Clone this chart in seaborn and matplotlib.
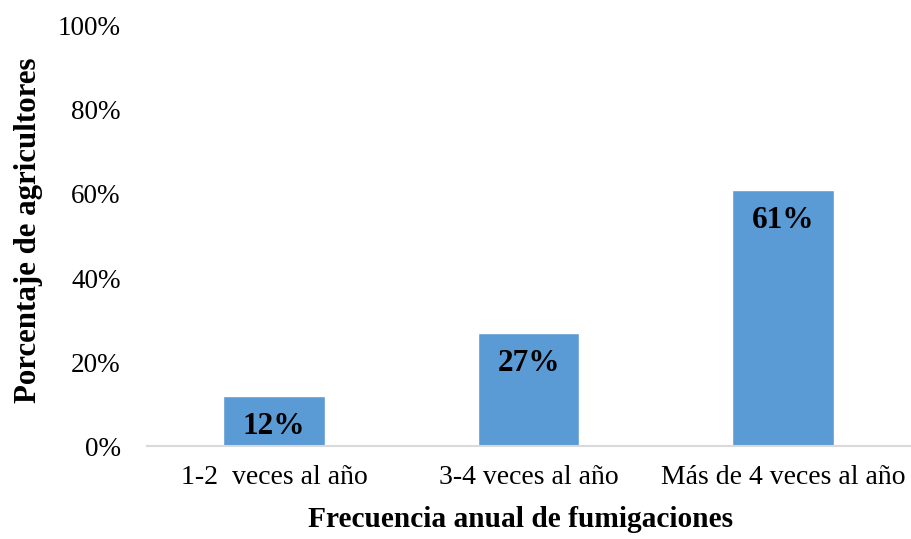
import matplotlib
matplotlib.use("Agg")
import matplotlib.pyplot as plt
import seaborn as sns
import pandas as pd
from matplotlib.ticker import PercentFormatter

categories = ["1-2  veces al año", "3-4 veces al año", "Más de 4 veces al año"]
values = [12, 27, 61]
yticks = [0, 20, 40, 60, 80, 100]

sns.set_theme(style="white")
plt.rcParams['font.family'] = ['Liberation Serif', 'DejaVu Serif']
plt.rcParams['text.color'] = 'black'
plt.rcParams['xtick.color'] = 'black'
plt.rcParams['ytick.color'] = 'black'
plt.rcParams['axes.labelcolor'] = 'black'

df = pd.DataFrame({"cat": categories, "val": values})

fig = plt.figure(figsize=(9.11, 5.39), dpi=100)
ax = fig.add_axes([0.1614, 0.1725, 0.8375, 0.7793])
sns.barplot(data=df, x="cat", y="val", color="#5B9BD5", saturation=1, width=0.4, ax=ax)

ax.set_ylim(0, 100)
ax.set_xlim(-0.5, 2.5)
ax.set_yticks(yticks)
ax.yaxis.set_major_formatter(PercentFormatter(decimals=0))
ax.tick_params(axis='y', labelsize=19.5, pad=19, length=0)
ax.tick_params(axis='x', labelsize=20, pad=14, length=0)
for s in ["top", "right", "left"]:
    ax.spines[s].set_visible(False)
ax.spines["bottom"].set_color("#D9D9D9")
ax.spines["bottom"].set_linewidth(1.5)

ax.set_xlabel("Frecuencia anual de fumigaciones", fontsize=21.2, fontweight="bold")
ax.set_ylabel("Porcentaje de agricultores", fontsize=22.2, fontweight="bold")
ax.xaxis.set_label_coords(0.49, -0.143)
ax.yaxis.set_label_coords(-0.136, 0.513)

for i, v in enumerate(values):
    ax.annotate(f"{v}%", xy=(i, v), xytext=(0, -31), textcoords="offset pixels",
                ha="center", va="center", fontsize=22.5, fontweight="bold", color="black")

fig.savefig("out.png", dpi=100)
